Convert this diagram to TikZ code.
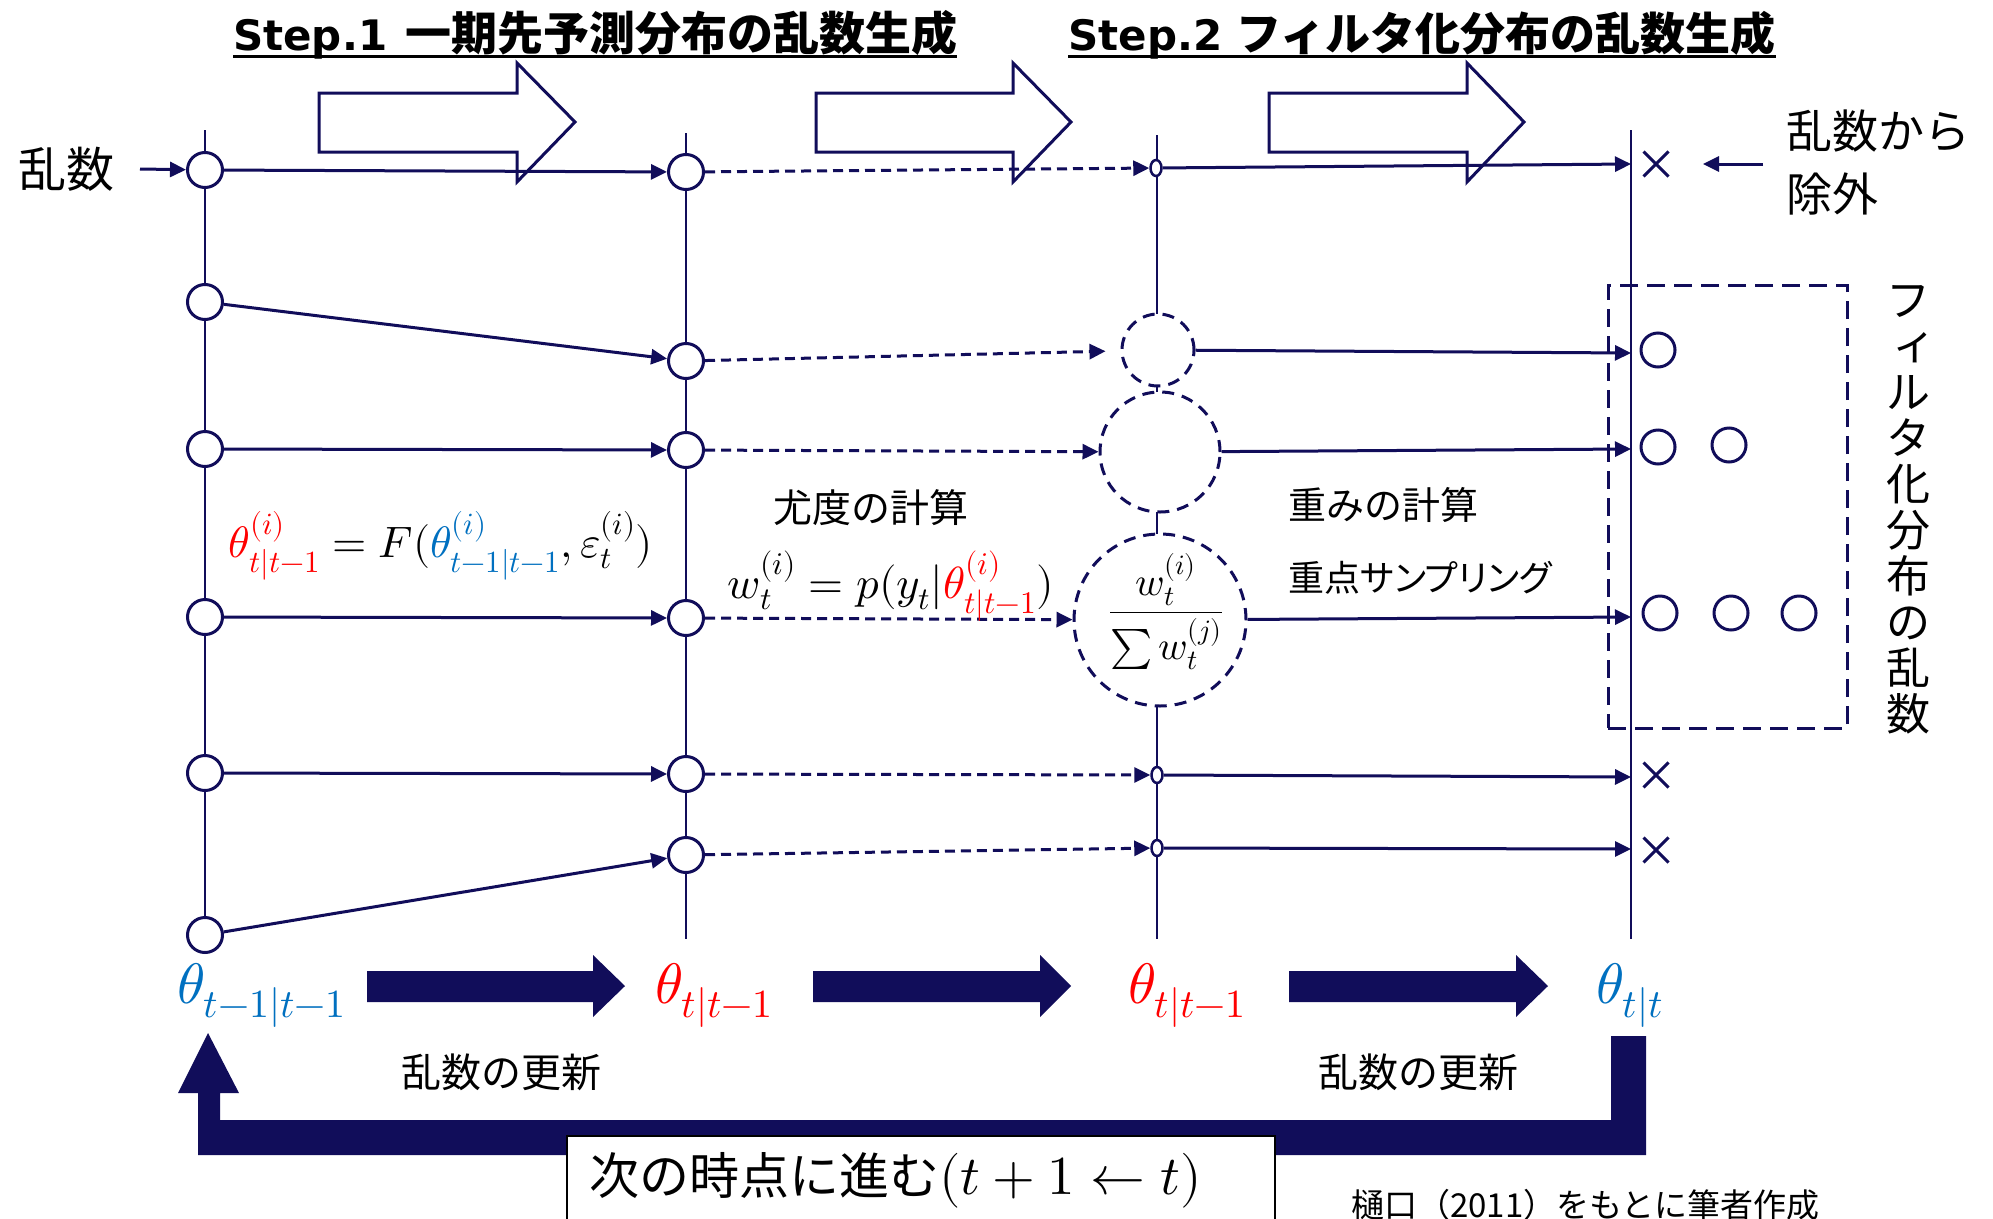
\documentclass[tikz,border=0pt]{standalone}
\usepackage{unicode-math}
\setmathfont{Latin Modern Math}
\setmainfont{Noto Sans CJK JP}
\newfontfamily\stepfont{DejaVu Sans}
\newfontfamily\jpp{Noto Sans CJK JP}[RawFeature={+palt}]
\usetikzlibrary{arrows.meta,shapes.misc,shapes.geometric}
\definecolor{dnavy}{RGB}{17,13,90}
\definecolor{tred}{RGB}{255,0,0}
\definecolor{tblue}{RGB}{0,112,192}
\tikzset{
  vline/.style={draw=dnavy, line width=2pt},
  harrow/.style={draw=dnavy, line width=3pt},
  farrow/.style={fill=dnavy, draw=none},
  pcirc/.style={circle, draw=dnavy, line width=3pt, fill=white, minimum size=35pt, inner sep=0pt},
  spt/.style={ellipse, draw=dnavy, line width=2.5pt, fill=white, minimum width=11pt, minimum height=16pt, inner sep=0pt},
  dcirc/.style={circle, draw=dnavy, line width=3pt, dash pattern=on 12pt off 8pt, fill=white, inner sep=0pt},
  conn/.style={draw=dnavy, line width=3pt, -{Triangle[length=16pt,width=15pt]}},
  dconn/.style={conn, dash pattern=on 10pt off 6pt},
  xm/.style={cross out, draw=dnavy, line width=3pt, minimum width=22pt, minimum height=22pt, inner sep=0pt},
  jtxt/.style={inner sep=0pt, text=black},
}
\begin{document}
\begin{tikzpicture}[x=1pt,y=-1pt]
\useasboundingbox (0,0) rectangle (1993,1218);
\fill[white] (0,0) rectangle (1993,1218);

% ---- titles
\node[jtxt, anchor=base west] (t1) at (233,50)
  {{\stepfont\bfseries\fontsize{42}{50}\selectfont Step.1}\hspace{18pt}{\bfseries\fontsize{46}{50}\selectfont 一期先予測分布の乱数生成}};
\draw[line width=3pt] ([yshift=-6pt]t1.base west) -- ([yshift=-6pt]t1.base east);
\node[jtxt, anchor=base west] (t2) at (1068,50)
  {{\stepfont\bfseries\fontsize{42}{50}\selectfont Step.2}\hspace{14pt}{\bfseries\fontsize{45}{50}\selectfont フィルタ化分布の乱数生成}};
\draw[line width=3pt] ([yshift=-6pt]t2.base west) -- ([yshift=-6pt]t2.base east);

% ---- hollow arrows
\foreach \xa/\xb/\xc in {319/517/575, 816/1013/1071, 1269/1467/1524}
  \draw[harrow] (\xa,93) -- (\xb,93) -- (\xb,63) -- (\xc,122) -- (\xb,182) -- (\xb,152) -- (\xa,152) -- cycle;

% ---- vertical lines
\coordinate (At) at (205,130); \coordinate (Ab) at (205,930);
\coordinate (Bt) at (686,133); \coordinate (Bb) at (686,939);
\coordinate (Ct) at (1157,135); \coordinate (Cb) at (1157,939);
\coordinate (Dt) at (1631,130); \coordinate (Db) at (1631,939);
\draw[vline] (At) -- (Ab);
\draw[vline] (Bt) -- (Bb);
\draw[vline] (Ct) -- (Cb);
\draw[vline] (Dt) -- (Db);

% ---- dashed box (filtered)
\node[draw=dnavy, line width=3pt, dash pattern=on 18pt off 9pt, minimum width=239pt, minimum height=443pt, inner sep=0pt] (fbox) at (1727.5,506.5) {};

% ---- column A
\node[pcirc] (a1) at (205,170) {};
\node[pcirc] (a2) at (205,302) {};
\node[pcirc] (a3) at (205,449) {};
\node[pcirc] (a4) at (205,617) {};
\node[pcirc] (a5) at (205,773) {};
\node[pcirc] (a6) at (205,935) {};
% ---- column B
\node[pcirc] (b1) at (686,172) {};
\node[pcirc] (b2) at (686,361) {};
\node[pcirc] (b3) at (686,450) {};
\node[pcirc] (b4) at (686,618) {};
\node[pcirc] (b5) at (686,774) {};
\node[pcirc] (b6) at (686,855) {};
% ---- column C
\node[spt] (c1) at (1156,168) {};
\node[dcirc, minimum size=72pt] (c2) at (1158,350) {};
\node[dcirc, minimum size=120pt] (c3) at (1160,452) {};
\node[dcirc, minimum size=172pt] (c4) at (1160,620) {};
\node[spt] (c5) at (1157,775) {};
\node[spt] (c6) at (1157,848) {};
% ---- column D targets
\coordinate (dr1) at (1631,164);
\coordinate (dr2) at (1631,353);
\coordinate (dr3) at (1631,449);
\coordinate (dr4) at (1631,617);
\coordinate (dr5) at (1631,777);
\coordinate (dr6) at (1631,849);
% ---- column D marks
\node[xm] (x1) at (1656,164) {};
\node[xm] (x5) at (1656,775) {};
\node[xm] (x6) at (1656,850) {};
\node[pcirc, minimum size=34pt] (d2) at (1658,350) {};
\node[pcirc, minimum size=34pt] (d3a) at (1658,447) {};
\node[pcirc, minimum size=34pt] (d3b) at (1729,445) {};
\node[pcirc, minimum size=34pt] (d4a) at (1660,613) {};
\node[pcirc, minimum size=34pt] (d4b) at (1731,613) {};
\node[pcirc, minimum size=34pt] (d4c) at (1799,613) {};

% ---- connectors A -> B
\coordinate (in0) at (140,169);
\draw[conn] (in0) -- (a1);
\draw[conn] (a1) -- (b1);
\draw[conn] (a2) -- (b2);
\draw[conn] (a3) -- (b3);
\draw[conn] (a4) -- (b4);
\draw[conn] (a5) -- (b5);
\draw[conn] (a6) -- (b6);
% ---- connectors B -> C (dashed)
\draw[dconn] (b1) -- (c1);
\draw[dconn, shorten >=15pt] (b2) -- (c2);
\draw[dconn] (b3) -- (c3);
\draw[dconn] (b4) -- (c4);
\draw[dconn] (b5) -- (c5);
\draw[dconn] (b6) -- (c6);
% ---- connectors C -> D
\draw[conn] (c1) -- (dr1);
\draw[conn] (c2) -- (dr2);
\draw[conn] (c3) -- (dr3);
\draw[conn] (c4) -- (dr4);
\draw[conn] (c5) -- (dr5);
\draw[conn] (c6) -- (dr6);
% ---- exclude arrow
\coordinate (ex0) at (1763,164);
\coordinate (ex1) at (1703,164);
\draw[conn] (ex0) -- (ex1);

% ---- text labels
\node[jtxt, font=\fontsize{48}{48}\selectfont] (lr) at (66,169) {乱数};
\node[jtxt, font=\fontsize{46}{63}\selectfont, align=left] (exl) at (1878,162) {乱数から\\除外};
\node[jtxt, font=\fontsize{44}{46}\selectfont, align=center] (vt) at (1908,510)
  {フ\\\makebox[44pt]{\hspace{12pt}\raisebox{3pt}{ィ}}\\ル\\タ\\化\\分\\布\\の\\乱\\数};
\node[jtxt, font=\fontsize{39}{40}\selectfont] (lik) at (871,508) {尤度の計算};
\node[jtxt, font=\fontsize{38}{40}\selectfont, anchor=west] (wt) at (1288,505) {重みの計算};
\node[jtxt, font=\jpp\fontsize{36}{40}\selectfont, anchor=west] (rs) at (1288,578) {重点サンプリング};

% ---- formulas
\node[jtxt, anchor=base, font=\fontsize{44}{46}\selectfont] (fF) at (441,557)
  {$\textcolor{tred}{\theta^{(i)}_{t|t-1}} = F(\textcolor{tblue}{\theta^{(i)}_{t-1|t-1}}, \varepsilon^{(i)}_t)$};
\node[jtxt, anchor=base, font=\fontsize{45}{46}\selectfont] (fw) at (891,598)
  {$w^{(i)}_t = p(y_t|\textcolor{tred}{\theta^{(i)}_{t|t-1}})$};
\node[jtxt, font=\fontsize{40}{44}\selectfont] (fr) at (1166,612)
  {$\displaystyle\frac{w^{(i)}_t}{\textstyle\sum w^{(j)}_t}$};

% ---- bottom theta labels
\node[jtxt, anchor=base west, text=tblue, font=\fontsize{57}{57}\selectfont] (th1) at (177,1003) {$\theta_{t-1|t-1}$};
\node[jtxt, anchor=base west, text=tred, font=\fontsize{57}{57}\selectfont] (th2) at (655,1003) {$\theta_{t|t-1}$};
\node[jtxt, anchor=base west, text=tred, font=\fontsize{57}{57}\selectfont] (th3) at (1128,1003) {$\theta_{t|t-1}$};
\node[jtxt, anchor=base west, text=tblue, font=\fontsize{57}{57}\selectfont] (th4) at (1596,1003) {$\theta_{t|t}$};

% ---- solid block arrows
\foreach \xa/\xb/\xc in {367/593/625, 813/1040/1071, 1289/1516/1548}
  \fill[farrow] (\xa,971) -- (\xb,971) -- (\xb,955) -- (\xc,986) -- (\xb,1017) -- (\xb,1002) -- (\xa,1002) -- cycle;

\node[jtxt, font=\fontsize{40}{40}\selectfont] (up1) at (501,1072) {乱数の更新};
\node[jtxt, font=\fontsize{40}{40}\selectfont] (up2) at (1418,1072) {乱数の更新};

% ---- feedback arrow
\fill[farrow] (1611,1036) -- (1646,1036) -- (1646,1155) -- (198,1155) -- (198,1093) -- (178,1093)
  -- (208,1033) -- (239,1093) -- (220,1093) -- (220,1120) -- (1611,1120) -- cycle;

\node[draw=black, line width=2pt, fill=white, anchor=north west, minimum width=708pt, minimum height=110pt, inner sep=0pt] (nbox) at (566,1135) {};
\node[jtxt, anchor=west, font=\fontsize{50}{50}\selectfont] (nt) at (589,1180) {次の時点に進む{\fontsize{55}{55}\selectfont$(t+1\leftarrow t)$}};

\node[jtxt, anchor=base west, font=\fontsize{33}{33}\selectfont] (cite) at (1351,1217) {樋口（2011）をもとに筆者作成};
\end{tikzpicture}
\end{document}
